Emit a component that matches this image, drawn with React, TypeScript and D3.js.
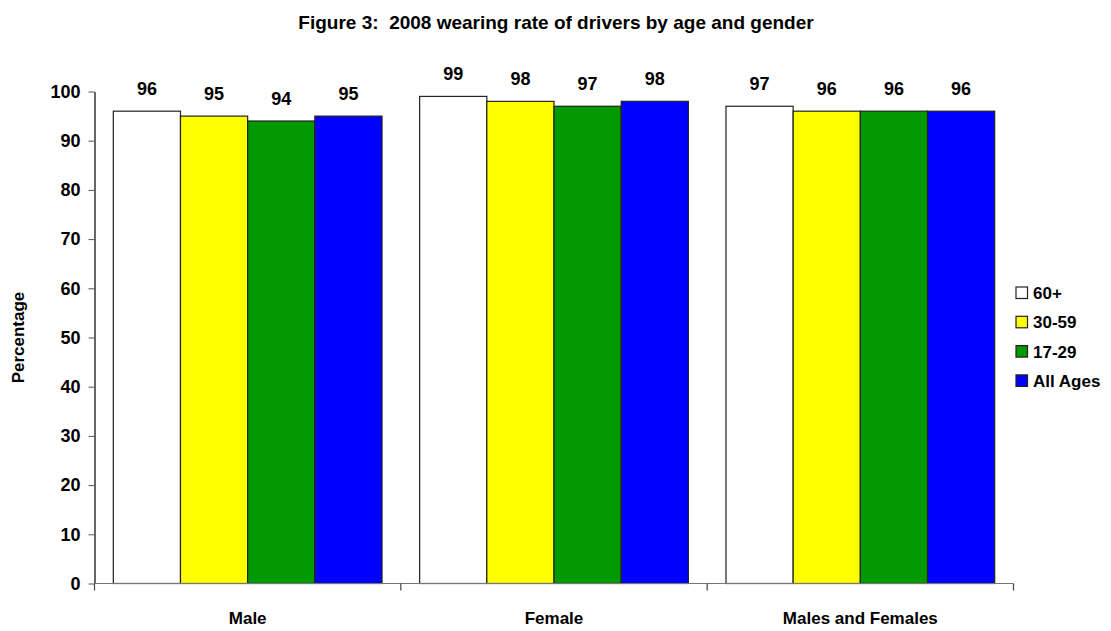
import React, { useEffect, useRef } from "react";
import * as d3 from "d3";

const width = 1111;
const height = 631;
const margin = { left: 94.5, right: 97.5, top: 91.5, bottom: 47.5 };

const groups = ["Male", "Female", "Males and Females"];
const ageBands = ["60+", "30-59", "17-29", "All Ages"];
const colors = ["#ffffff", "#ffff00", "#009900", "#0000ff"];
const male = [96, 95, 94, 95];
const female = [99, 98, 97, 98];
const both = [97, 96, 96, 96];
const yTicks = [0, 10, 20, 30, 40, 50, 60, 70, 80, 90, 100];

const font = "Arial, 'Liberation Sans', sans-serif";

const App = () => {
    const ref = useRef<SVGSVGElement>(null);

    useEffect(() => {
        const svg = d3.select(ref.current);
        svg.selectAll("*").remove();

        const values = [male, female, both];
        const rows = groups.flatMap((g, gi) =>
            ageBands.map((a, ai) => ({ group: g, band: a, value: values[gi][ai], color: colors[ai] }))
        );

        const x0 = d3.scaleBand<string>(groups, [margin.left, width - margin.right]).padding(0);
        const x1 = d3.scaleBand<string>(ageBands, [0, x0.bandwidth()]).paddingInner(0).paddingOuter(0.28);
        const y = d3.scaleLinear([0, 100], [height - margin.bottom, margin.top]);

        // title
        svg.append("text")
            .attr("x", 556)
            .attr("y", 29)
            .attr("text-anchor", "middle")
            .attr("font-family", font)
            .attr("font-weight", "bold")
            .attr("font-size", 19)
            .style("white-space", "pre")
            .text("Figure 3:  2008 wearing rate of drivers by age and gender");

        // bars
        const g = svg.append("g");
        g.selectAll("rect")
            .data(rows)
            .join("rect")
            .attr("x", d => x0(d.group)! + x1(d.band)!)
            .attr("y", d => y(d.value))
            .attr("width", x1.bandwidth())
            .attr("height", d => y(0) - y(d.value))
            .attr("fill", d => d.color)
            .attr("stroke", "#222")
            .attr("stroke-width", 1.2);

        // value labels
        g.selectAll("text.val")
            .data(rows)
            .join("text")
            .attr("class", "val")
            .attr("x", d => x0(d.group)! + x1(d.band)! + x1.bandwidth() / 2)
            .attr("y", d => y(d.value) - 16)
            .attr("text-anchor", "middle")
            .attr("font-family", font)
            .attr("font-weight", "bold")
            .attr("font-size", 18)
            .text(d => d.value);

        // y axis
        const yAxis = d3.axisLeft(y).tickValues(yTicks).tickSize(6).tickSizeOuter(0).tickPadding(8);
        const ya = svg.append("g")
            .attr("transform", `translate(${margin.left},0)`)
            .call(yAxis);
        ya.select(".domain").attr("stroke", "#000").attr("stroke-width", 1.2);
        ya.selectAll(".tick line").attr("stroke", "#555");
        ya.selectAll(".tick text")
            .attr("font-family", font)
            .attr("font-weight", "bold")
            .attr("font-size", 18)
            .attr("fill", "#000");

        // x axis
        const xa = svg.append("g").attr("transform", `translate(0,${y(0)})`);
        xa.append("line")
            .attr("x1", margin.left)
            .attr("x2", width - margin.right)
            .attr("stroke", "#777")
            .attr("stroke-width", 1.2);
        const edges = [...groups.map(d => x0(d)!), width - margin.right];
        xa.selectAll("line.tick")
            .data(edges)
            .join("line")
            .attr("class", "tick")
            .attr("x1", d => d)
            .attr("x2", d => d)
            .attr("y1", 0)
            .attr("y2", 7)
            .attr("stroke", "#444")
            .attr("stroke-width", 1.2);
        xa.selectAll("text")
            .data(groups)
            .join("text")
            .attr("x", d => x0(d)! + x0.bandwidth() / 2)
            .attr("y", 40)
            .attr("text-anchor", "middle")
            .attr("font-family", font)
            .attr("font-weight", "bold")
            .attr("font-size", 17)
            .text(d => d);

        // y label
        svg.append("text")
            .attr("transform", `translate(24,${(y(0) + y(100)) / 2}) rotate(-90)`)
            .attr("text-anchor", "middle")
            .attr("font-family", font)
            .attr("font-weight", "bold")
            .attr("font-size", 17)
            .text("Percentage");

        // legend
        const legend = svg.append("g").attr("transform", "translate(1016,287)");
        const item = legend.selectAll("g")
            .data(ageBands)
            .join("g")
            .attr("transform", (d, i) => `translate(0,${i * 29.3})`);
        item.append("rect")
            .attr("width", 11.5)
            .attr("height", 11.5)
            .attr("fill", (d, i) => colors[i])
            .attr("stroke", "#222")
            .attr("stroke-width", 1.2);
        item.append("text")
            .attr("x", 17)
            .attr("y", 12)
            .attr("font-family", font)
            .attr("font-weight", "bold")
            .attr("font-size", 17)
            .text(d => d);
    }, []);

    return (
        <svg
            ref={ref}
            width={width}
            height={height}
            style={{ position: "absolute", left: 0, top: 0, background: "#fff" }}
        />
    );
};

export default App;
